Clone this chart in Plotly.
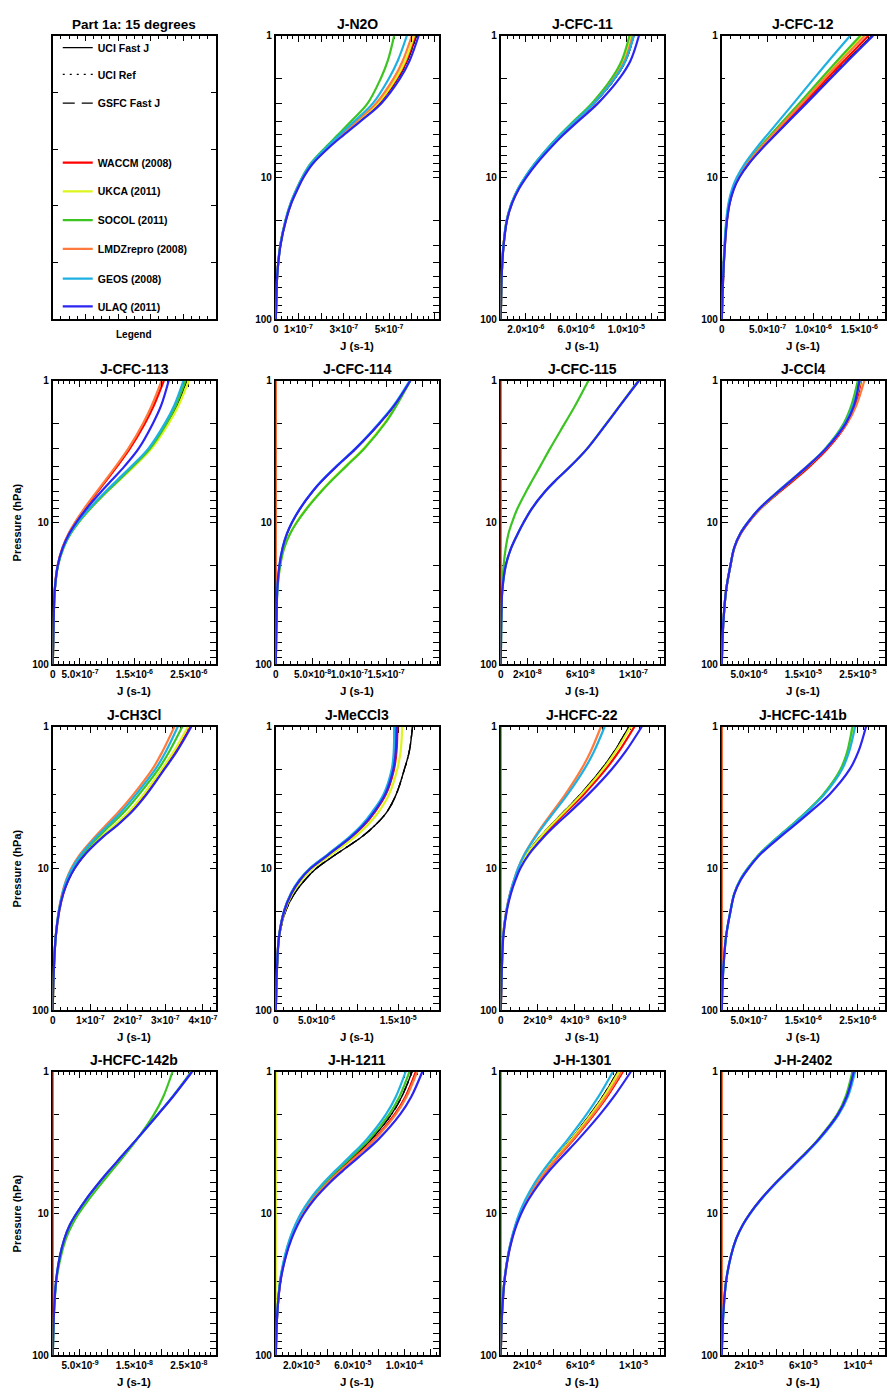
import numpy as np
import plotly.graph_objects as go

# Pressure levels (hPa) shared by every profile
P_LEVELS = [100, 70, 50, 30, 20, 15, 12, 10, 8, 6, 5, 4, 3, 2, 1.5, 1]

MODELS = ["WACCM (2008)", "UKCA (2011)", "SOCOL (2011)",
          "LMDZrepro (2008)", "GEOS (2008)", "ULAQ (2011)"]
REFERENCES = ["UCI Fast J", "UCI Ref", "GSFC Fast J"]
REF_KEY = "UCI/GSFC"
ZERO = [0] * 16

# ---- photolysis profiles; each value is J in the panel's unit ----
# J-N2O  (1e-7 s-1)
J_N2O = {
    REF_KEY:            [0, .03, .06, .2, .44, .69, .95, 1.2, 1.6, 2.38, 2.94, 3.66, 4.55, 5.38, 5.8, 6.2],
    "WACCM (2008)":     [0, .03, .06, .2, .44, .69, .95, 1.2, 1.59, 2.37, 2.93, 3.64, 4.52, 5.34, 5.76, 6.15],
    "UKCA (2011)":      [0, .03, .06, .2, .44, .69, .95, 1.2, 1.59, 2.37, 2.92, 3.62, 4.5, 5.3, 5.71, 6.1],
    "SOCOL (2011)":     [0, .03, .06, .2, .43, .67, .92, 1.16, 1.53, 2.25, 2.74, 3.33, 4.05, 4.63, 4.94, 5.22],
    "LMDZrepro (2008)": [0, .03, .06, .2, .44, .68, .94, 1.19, 1.57, 2.34, 2.88, 3.57, 4.42, 5.2, 5.6, 6.0],
    "GEOS (2008)":      [0, .03, .06, .2, .43, .67, .93, 1.17, 1.55, 2.3, 2.82, 3.47, 4.28, 4.99, 5.38, 5.78],
    "ULAQ (2011)":      [0, .03, .06, .21, .45, .7, .97, 1.22, 1.63, 2.42, 3.0, 3.74, 4.65, 5.48, 5.9, 6.3],
}
# J-CFC-11  (1e-6 s-1)
J_CFC11 = {
    REF_KEY:            [0, .03, .07, .22, .48, .9, 1.4, 1.95, 2.75, 3.95, 4.8, 5.95, 7.45, 9.1, 9.95, 10.6],
    "WACCM (2008)":     [0, .03, .07, .22, .48, .9, 1.4, 1.95, 2.74, 3.93, 4.77, 5.9, 7.37, 8.98, 9.8, 10.45],
    "UKCA (2011)":      [0, .03, .07, .22, .48, .9, 1.4, 1.94, 2.73, 3.92, 4.75, 5.87, 7.33, 8.93, 9.76, 10.4],
    "SOCOL (2011)":     [0, .03, .07, .22, .48, .9, 1.39, 1.93, 2.71, 3.89, 4.71, 5.81, 7.25, 8.83, 9.63, 10.25],
    "LMDZrepro (2008)": [0, .03, .07, .22, .49, .91, 1.42, 1.97, 2.77, 3.97, 4.81, 5.94, 7.42, 9.03, 9.86, 10.5],
    "GEOS (2008)":      [0, .03, .07, .22, .47, .88, 1.37, 1.91, 2.7, 3.9, 4.75, 5.9, 7.4, 9.07, 9.93, 10.6],
    "ULAQ (2011)":      [0, .03, .07, .23, .5, .93, 1.45, 2.02, 2.85, 4.1, 4.98, 6.17, 7.73, 9.45, 10.33, 11.0],
}
# J-CFC-12  (1e-7 s-1)
J_CFC12 = {
    REF_KEY:            [0, .08, .16, .35, .58, .88, 1.32, 1.91, 2.93, 4.62, 5.81, 7.28, 9.16, 11.79, 13.68, 16.4],
    "WACCM (2008)":     [0, .08, .16, .34, .56, .86, 1.29, 1.86, 2.86, 4.51, 5.67, 7.1, 8.94, 11.5, 13.35, 16.0],
    "UKCA (2011)":      [0, .08, .15, .33, .54, .83, 1.23, 1.78, 2.73, 4.31, 5.42, 6.79, 8.55, 10.99, 12.75, 15.3],
    "SOCOL (2011)":     [0, .08, .15, .32, .53, .81, 1.22, 1.76, 2.7, 4.25, 5.35, 6.7, 8.44, 10.85, 12.59, 15.1],
    "LMDZrepro (2008)": [0, .08, .15, .33, .55, .84, 1.26, 1.81, 2.79, 4.39, 5.53, 6.92, 8.71, 11.21, 13.0, 15.6],
    "GEOS (2008)":      [0, .07, .14, .3, .49, .75, 1.13, 1.63, 2.5, 3.94, 4.96, 6.21, 7.82, 10.06, 11.67, 14.0],
    "ULAQ (2011)":      [0, .08, .16, .35, .58, .89, 1.33, 1.92, 2.95, 4.65, 5.85, 7.32, 9.22, 11.86, 13.76, 16.5],
}
# J-CFC-113  (1e-7 s-1)
J_CFC113 = {
    REF_KEY:            [0, .08, .16, .37, .96, 1.96, 3.24, 4.68, 6.82, 9.98, 12.15, 14.8, 18.0, 21.0, 22.8, 24.6],
    "WACCM (2008)":     [0, .08, .16, .36, .92, 1.83, 2.94, 4.14, 5.86, 8.32, 9.92, 11.84, 14.18, 16.92, 18.54, 20.4],
    "UKCA (2011)":      [0, .08, .16, .37, .97, 1.98, 3.27, 4.72, 6.9, 10.1, 12.3, 15.0, 18.2, 21.3, 23.1, 25.0],
    "SOCOL (2011)":     [0, .08, .16, .37, .97, 1.98, 3.27, 4.72, 6.88, 10.05, 12.2, 14.8, 17.9, 20.9, 22.6, 24.4],
    "LMDZrepro (2008)": [0, .08, .16, .35, .9, 1.8, 2.88, 4.06, 5.74, 8.15, 9.72, 11.6, 13.9, 16.58, 18.17, 20.0],
    "GEOS (2008)":      [0, .08, .16, .37, .96, 1.95, 3.2, 4.6, 6.7, 9.8, 11.9, 14.5, 17.6, 20.6, 22.3, 24.0],
    "ULAQ (2011)":      [0, .08, .16, .36, .92, 1.85, 3.0, 4.3, 6.2, 9.0, 10.9, 13.2, 15.8, 18.4, 19.9, 21.3],
}
# J-CFC-114  (1e-8 s-1)
J_CFC114 = {
    REF_KEY:            [0, .05, .1, .2, .51, .95, 1.54, 2.22, 3.3, 5.08, 6.43, 8.33, 10.93, 14.1, 16.1, 18.3],
    "WACCM (2008)":     ZERO,
    "UKCA (2011)":      [0, .05, .1, .22, .6, 1.15, 1.92, 2.8, 4.14, 6.17, 7.6, 9.5, 11.95, 14.75, 16.3, 18.2],
    "SOCOL (2011)":     [0, .05, .1, .22, .61, 1.17, 1.95, 2.85, 4.2, 6.25, 7.7, 9.6, 12.05, 14.85, 16.4, 18.3],
    "LMDZrepro (2008)": ZERO,
    "GEOS (2008)":      [0, .05, .1, .2, .5, .94, 1.52, 2.2, 3.27, 5.03, 6.37, 8.26, 10.85, 14.0, 16.0, 18.2],
    "ULAQ (2011)":      [0, .05, .1, .2, .5, .94, 1.52, 2.2, 3.28, 5.05, 6.4, 8.3, 10.9, 14.1, 16.1, 18.3],
}
# J-CFC-115  (1e-8 s-1)
J_CFC115 = {
    REF_KEY:            [0, .02, .04, .12, .38, .8, 1.28, 1.72, 2.33, 3.37, 4.18, 5.27, 6.53, 7.98, 8.98, 10.4],
    "WACCM (2008)":     ZERO,
    "UKCA (2011)":      [0, .02, .04, .12, .38, .8, 1.28, 1.72, 2.33, 3.37, 4.18, 5.26, 6.51, 7.95, 8.95, 10.35],
    "SOCOL (2011)":     [0, .02, .04, .1, .22, .38, .58, .85, 1.25, 1.93, 2.4, 2.98, 3.72, 4.82, 5.6, 6.6],
    "LMDZrepro (2008)": ZERO,
    "GEOS (2008)":      [0, .02, .04, .12, .38, .8, 1.28, 1.72, 2.33, 3.37, 4.18, 5.27, 6.53, 7.98, 8.98, 10.4],
    "ULAQ (2011)":      [0, .02, .04, .12, .38, .8, 1.28, 1.72, 2.33, 3.37, 4.18, 5.27, 6.53, 7.98, 8.98, 10.4],
}
# J-CCl4  (1e-6 s-1)
J_CCL4 = {
    REF_KEY:            [0, .12, .3, .8, 1.6, 2.3, 3.4, 4.8, 6.9, 10.5, 12.9, 15.8, 19.2, 22.8, 24.3, 25.4],
    "WACCM (2008)":     [0, .12, .3, .8, 1.62, 2.35, 3.48, 4.9, 7.1, 10.8, 13.3, 16.2, 19.5, 23.0, 24.5, 25.6],
    "UKCA (2011)":      [0, .12, .3, .8, 1.6, 2.3, 3.4, 4.8, 6.95, 10.55, 12.95, 15.85, 19.2, 22.75, 24.2, 25.5],
    "SOCOL (2011)":     [0, .12, .3, .8, 1.6, 2.3, 3.4, 4.8, 6.95, 10.55, 12.95, 15.8, 19.05, 22.4, 23.8, 25.0],
    "LMDZrepro (2008)": [0, .12, .3, .8, 1.6, 2.3, 3.4, 4.8, 6.9, 10.4, 12.8, 15.7, 19.2, 23.0, 24.7, 26.2],
    "GEOS (2008)":      [0, .12, .3, .8, 1.6, 2.3, 3.38, 4.75, 6.85, 10.4, 12.8, 15.7, 19.1, 22.65, 24.1, 25.4],
    "ULAQ (2011)":      [0, .12, .3, .8, 1.6, 2.3, 3.4, 4.8, 6.9, 10.5, 12.9, 15.8, 19.2, 22.8, 24.3, 25.3],
}
# J-CH3Cl  (1e-7 s-1)
J_CH3CL = {
    REF_KEY:            [0, .01, .03, .08, .17, .28, .42, .58, .85, 1.32, 1.69, 2.09, 2.49, 2.96, 3.29, 3.68],
    "WACCM (2008)":     [0, .01, .03, .08, .17, .28, .41, .57, .84, 1.31, 1.68, 2.07, 2.47, 2.95, 3.28, 3.67],
    "UKCA (2011)":      [0, .01, .03, .08, .17, .27, .4, .56, .82, 1.28, 1.63, 2.02, 2.42, 2.9, 3.22, 3.6],
    "SOCOL (2011)":     [0, .01, .03, .08, .16, .26, .38, .53, .78, 1.21, 1.52, 1.9, 2.3, 2.81, 3.1, 3.45],
    "LMDZrepro (2008)": [0, .01, .03, .08, .16, .25, .36, .49, .72, 1.12, 1.4, 1.75, 2.15, 2.65, 2.92, 3.24],
    "GEOS (2008)":      [0, .01, .03, .08, .16, .26, .37, .51, .75, 1.16, 1.46, 1.82, 2.22, 2.73, 3.01, 3.33],
    "ULAQ (2011)":      [0, .01, .03, .08, .17, .28, .42, .58, .85, 1.33, 1.7, 2.1, 2.5, 2.97, 3.3, 3.69],
}
# J-MeCCl3  (1e-6 s-1)
J_MECCL3 = {
    REF_KEY:            [0, .08, .17, .45, 1.2, 2.3, 3.6, 4.95, 7.3, 10.5, 12.1, 13.6, 14.75, 15.75, 16.35, 16.75],
    "WACCM (2008)":     [0, .07, .15, .41, 1.04, 1.93, 3.03, 4.29, 6.48, 9.27, 10.75, 12.12, 13.48, 14.48, 14.79, 14.9],
    "UKCA (2011)":      [0, .07, .16, .42, 1.09, 2.05, 3.21, 4.5, 6.74, 9.66, 11.18, 12.59, 13.88, 14.88, 15.29, 15.49],
    "SOCOL (2011)":     [0, .07, .15, .4, 1.01, 1.87, 2.94, 4.19, 6.35, 9.08, 10.53, 11.89, 13.28, 14.28, 14.55, 14.6],
    "LMDZrepro (2008)": [0, .07, .15, .4, 1.02, 1.89, 2.96, 4.22, 6.39, 9.14, 10.6, 11.96, 13.34, 14.34, 14.62, 14.7],
    "GEOS (2008)":      [0, .07, .15, .4, 1.0, 1.85, 2.9, 4.15, 6.3, 9.0, 10.45, 11.8, 13.2, 14.2, 14.45, 14.5],
    "ULAQ (2011)":      [0, .07, .15, .41, 1.03, 1.91, 2.99, 4.25, 6.43, 9.2, 10.66, 12.03, 13.4, 14.4, 14.7, 14.8],
}
# J-HCFC-22  (1e-9 s-1)
J_HCFC22 = {
    REF_KEY:            [0, .03, .06, .13, .3, .5, .73, .96, 1.37, 2.11, 2.66, 3.38, 4.29, 5.42, 6.11, 6.9],
    "WACCM (2008)":     [0, .03, .06, .13, .3, .52, .76, 1.0, 1.42, 2.2, 2.77, 3.52, 4.47, 5.65, 6.36, 7.2],
    "UKCA (2011)":      [0, .03, .06, .13, .3, .51, .74, .97, 1.38, 2.14, 2.69, 3.43, 4.35, 5.5, 6.19, 7.0],
    "SOCOL (2011)":     ZERO,
    "LMDZrepro (2008)": [0, .03, .06, .13, .3, .5, .72, .93, 1.26, 1.83, 2.24, 2.78, 3.48, 4.34, 4.84, 5.4],
    "GEOS (2008)":      [0, .03, .06, .13, .3, .5, .72, .93, 1.27, 1.87, 2.3, 2.87, 3.6, 4.5, 5.02, 5.6],
    "ULAQ (2011)":      [0, .03, .06, .14, .32, .55, .8, 1.05, 1.5, 2.32, 2.92, 3.72, 4.72, 5.97, 6.72, 7.6],
}
# J-HCFC-141b  (1e-7 s-1)
J_HCFC141B = {
    REF_KEY:            [0, .12, .3, .8, 1.6, 2.3, 3.4, 4.75, 6.8, 10.3, 12.7, 15.5, 18.7, 21.9, 23.2, 24.2],
    "WACCM (2008)":     ZERO,
    "UKCA (2011)":      [0, .12, .3, .8, 1.6, 2.3, 3.4, 4.75, 6.8, 10.3, 12.7, 15.55, 18.75, 21.95, 23.25, 24.3],
    "SOCOL (2011)":     [0, .12, .3, .8, 1.6, 2.3, 3.4, 4.75, 6.8, 10.3, 12.7, 15.5, 18.65, 21.8, 23.05, 24.0],
    "LMDZrepro (2008)": ZERO,
    "GEOS (2008)":      [0, .12, .3, .8, 1.6, 2.3, 3.4, 4.77, 6.85, 10.35, 12.8, 15.6, 18.85, 22.1, 23.4, 24.5],
    "ULAQ (2011)":      [0, .12, .3, .8, 1.6, 2.35, 3.5, 4.9, 7.0, 10.7, 13.2, 16.2, 19.8, 23.5, 25.1, 26.5],
}
# J-HCFC-142b  (1e-9 s-1)
J_HCFC142B = {
    REF_KEY:            [0, .1, .22, .6, 1.3, 2.15, 3.15, 4.35, 6.06, 8.6, 10.33, 12.54, 15.4, 19.3, 22.0, 25.5],
    "WACCM (2008)":     ZERO,
    "UKCA (2011)":      [0, .1, .22, .6, 1.3, 2.15, 3.15, 4.35, 6.06, 8.6, 10.33, 12.54, 15.4, 19.3, 22.0, 25.4],
    "SOCOL (2011)":     [0, .1, .22, .65, 1.5, 2.44, 3.56, 4.78, 6.57, 9.13, 10.83, 12.92, 15.48, 18.6, 20.3, 22.0],
    "LMDZrepro (2008)": ZERO,
    "GEOS (2008)":      [0, .1, .22, .6, 1.3, 2.15, 3.15, 4.35, 6.06, 8.6, 10.33, 12.54, 15.4, 19.3, 22.0, 25.5],
    "ULAQ (2011)":      [0, .1, .22, .6, 1.3, 2.15, 3.15, 4.35, 6.06, 8.6, 10.33, 12.54, 15.4, 19.33, 22.07, 25.6],
}
# J-H-1211  (1e-6 s-1)
J_H1211 = {
    REF_KEY:            [0, .5, 1.2, 3.45, 7.35, 11.5, 15.9, 20.5, 27.6, 39.6, 48.5, 60.0, 74.2, 89.9, 98.0, 106],
    "WACCM (2008)":     [0, .5, 1.2, 3.5, 7.6, 11.9, 16.4, 21.1, 28.4, 40.8, 49.9, 61.7, 76.4, 92.5, 100.9, 109],
    "UKCA (2011)":      ZERO,
    "SOCOL (2011)":     [0, .5, 1.2, 3.4, 7.2, 11.3, 15.6, 20.1, 27.1, 38.9, 47.5, 58.8, 72.8, 88.2, 96.2, 104],
    "LMDZrepro (2008)": [0, .5, 1.2, 3.6, 7.6, 12.0, 16.5, 21.2, 28.7, 41.1, 50.3, 62.2, 77.0, 93.3, 101.7, 110],
    "GEOS (2008)":      [0, .5, 1.2, 3.3, 7.0, 11.0, 15.2, 19.5, 26.3, 37.7, 46.2, 57.2, 70.7, 85.7, 93.4, 101],
    "ULAQ (2011)":      [0, .5, 1.2, 3.7, 7.9, 12.4, 17.1, 22.0, 29.7, 42.6, 52.1, 64.5, 79.8, 96.7, 105.4, 114],
}
# J-H-1301  (1e-7 s-1)
J_H1301 = {
    REF_KEY:            [0, .4, 1.0, 2.7, 5.35, 8.25, 11.2, 14.3, 19.0, 27.0, 33.0, 41.4, 52.7, 67.3, 76.7, 88],
    "WACCM (2008)":     [0, .4, 1.0, 2.75, 5.45, 8.4, 11.5, 14.6, 19.6, 28.0, 34.4, 43.2, 55.0, 70.3, 80.1, 92],
    "UKCA (2011)":      [0, .4, 1.0, 2.7, 5.4, 8.3, 11.3, 14.4, 19.2, 27.3, 33.4, 41.9, 53.2, 68.1, 77.6, 89],
    "SOCOL (2011)":     ZERO,
    "LMDZrepro (2008)": [0, .4, 1.0, 2.75, 5.45, 8.4, 11.5, 14.6, 19.5, 27.8, 34.1, 42.8, 54.4, 69.6, 79.3, 91],
    "GEOS (2008)":      [0, .4, 1.0, 2.7, 5.3, 8.15, 11.05, 14.0, 18.5, 26.0, 31.8, 39.7, 50.5, 64.6, 73.6, 84.5],
    "ULAQ (2011)":      [0, .4, 1.0, 2.8, 5.6, 8.7, 12.0, 15.4, 20.8, 29.8, 36.6, 46.0, 58.5, 74.8, 85.2, 98],
}
# J-H-2402  (1e-6 s-1)
J_H2402 = {
    REF_KEY:            [0, .5, 1.2, 3.2, 6.7, 10.7, 15.5, 20.7, 28.5, 40.3, 48.6, 58.8, 71.3, 85.7, 92.2, 97.5],
    "WACCM (2008)":     ZERO,
    "UKCA (2011)":      [0, .5, 1.2, 3.2, 6.7, 10.7, 15.5, 20.7, 28.5, 40.3, 48.6, 58.7, 71.0, 85.2, 91.5, 96.5],
    "SOCOL (2011)":     [0, .5, 1.2, 3.2, 6.7, 10.7, 15.5, 20.7, 28.5, 40.3, 48.5, 58.6, 70.8, 84.8, 91.0, 96],
    "LMDZrepro (2008)": ZERO,
    "GEOS (2008)":      [0, .5, 1.2, 3.2, 6.7, 10.7, 15.6, 20.9, 28.8, 40.7, 49.1, 59.3, 71.8, 86.0, 92.7, 98],
    "ULAQ (2011)":      [0, .5, 1.2, 3.2, 6.7, 10.7, 15.5, 20.7, 28.5, 40.3, 48.6, 58.8, 71.2, 85.4, 91.9, 97],
}


# ---- x-axis tick labels per panel (IDL-style mantissa x 10^exponent) ----
def sci(m, e):
    return f"{m}\u00d710<sup>{e}</sup>"


N2O_TICKS, N2O_TEXT = [0, 1e-7, 3e-7, 5e-7], ["0", sci("1", -7), sci("3", -7), sci("5", -7)]
CFC11_TICKS, CFC11_TEXT = [2e-6, 6e-6, 1e-5], [sci("2.0", -6), sci("6.0", -6), sci("1.0", -5)]
CFC12_TICKS, CFC12_TEXT = [0, 5e-7, 1e-6, 1.5e-6], ["0", sci("5.0", -7), sci("1.0", -6), sci("1.5", -6)]
CFC113_TICKS, CFC113_TEXT = [0, 5e-7, 1.5e-6, 2.5e-6], ["0", sci("5.0", -7), sci("1.5", -6), sci("2.5", -6)]
CFC114_TICKS, CFC114_TEXT = [0, 5e-8, 1e-7, 1.5e-7], ["0", sci("5.0", -8), sci("1.0", -7), sci("1.5", -7)]
CFC115_TICKS, CFC115_TEXT = [0, 2e-8, 6e-8, 1e-7], ["0", sci("2", -8), sci("6", -8), sci("1", -7)]
CCL4_TICKS, CCL4_TEXT = [5e-6, 1.5e-5, 2.5e-5], [sci("5.0", -6), sci("1.5", -5), sci("2.5", -5)]
CH3CL_TICKS, CH3CL_TEXT = [0, 1e-7, 2e-7, 3e-7, 4e-7], ["0", sci("1", -7), sci("2", -7), sci("3", -7), sci("4", -7)]
MECCL3_TICKS, MECCL3_TEXT = [0, 5e-6, 1.5e-5], ["0", sci("5.0", -6), sci("1.5", -5)]
HCFC22_TICKS, HCFC22_TEXT = [0, 2e-9, 4e-9, 6e-9], ["0", sci("2", -9), sci("4", -9), sci("6", -9)]
HCFC141B_TICKS, HCFC141B_TEXT = [5e-7, 1.5e-6, 2.5e-6], [sci("5.0", -7), sci("1.5", -6), sci("2.5", -6)]
HCFC142B_TICKS, HCFC142B_TEXT = [5e-9, 1.5e-8, 2.5e-8], [sci("5.0", -9), sci("1.5", -8), sci("2.5", -8)]
H1211_TICKS, H1211_TEXT = [2e-5, 6e-5, 1e-4], [sci("2.0", -5), sci("6.0", -5), sci("1.0", -4)]
H1301_TICKS, H1301_TEXT = [2e-6, 6e-6, 1e-5], [sci("2", -6), sci("6", -6), sci("1", -5)]
H2402_TICKS, H2402_TEXT = [2e-5, 6e-5, 1e-4], [sci("2", -5), sci("6", -5), sci("1", -4)]

# (title, profiles, unit, x max, labelled ticks, labels, major step, minor step)
PANELS = [
    ("J-N2O", J_N2O, 1e-7, 7.2e-7, N2O_TICKS, N2O_TEXT, 1e-7, 2.5e-8),
    ("J-CFC-11", J_CFC11, 1e-6, 1.3e-5, CFC11_TICKS, CFC11_TEXT, 2e-6, 5e-7),
    ("J-CFC-12", J_CFC12, 1e-7, 1.78e-6, CFC12_TICKS, CFC12_TEXT, 5e-7, 1e-7),
    ("J-CFC-113", J_CFC113, 1e-7, 3e-6, CFC113_TICKS, CFC113_TEXT, 5e-7, 1e-7),
    ("J-CFC-114", J_CFC114, 1e-8, 2.22e-7, CFC114_TICKS, CFC114_TEXT, 5e-8, 1e-8),
    ("J-CFC-115", J_CFC115, 1e-8, 1.23e-7, CFC115_TICKS, CFC115_TEXT, 2e-8, 5e-9),
    ("J-CCl4", J_CCL4, 1e-6, 3e-5, CCL4_TICKS, CCL4_TEXT, 5e-6, 1e-6),
    ("J-CH3Cl", J_CH3CL, 1e-7, 4.35e-7, CH3CL_TICKS, CH3CL_TEXT, 1e-7, 2e-8),
    ("J-MeCCl3", J_MECCL3, 1e-6, 2e-5, MECCL3_TICKS, MECCL3_TEXT, 5e-6, 1e-6),
    ("J-HCFC-22", J_HCFC22, 1e-9, 8.8e-9, HCFC22_TICKS, HCFC22_TEXT, 2e-9, 5e-10),
    ("J-HCFC-141b", J_HCFC141B, 1e-7, 3e-6, HCFC141B_TICKS, HCFC141B_TEXT, 5e-7, 1e-7),
    ("J-HCFC-142b", J_HCFC142B, 1e-9, 3e-8, HCFC142B_TICKS, HCFC142B_TEXT, 5e-9, 1e-9),
    ("J-H-1211", J_H1211, 1e-6, 1.27e-4, H1211_TICKS, H1211_TEXT, 2e-5, 5e-6),
    ("J-H-1301", J_H1301, 1e-7, 1.23e-5, H1301_TICKS, H1301_TEXT, 2e-6, 5e-7),
    ("J-H-2402", J_H2402, 1e-6, 1.2e-4, H2402_TICKS, H2402_TEXT, 2e-5, 5e-6),
]

# ---- styling ----
W, H = 891, 1394
FONT = "Liberation Sans"
MODEL_COLORS = ["#ff0000", "#dcf51c", "#3cc423", "#ff7b3d", "#1fb0e2", "#2b24f2"]
REF_DASH = ["solid", "2px,5px", "12px,7px"]
COL_LEFT = [50, 274, 500, 722]
COL_W = 164
ROW_TOP = [30, 378, 727, 1075]
ROW_H = 286
LEGEND_ROWS = [42, 69, 98, 158, 187, 216, 245, 275, 303]


def px_x(v):
    return v / W


def px_y(v):
    return 1 - v / H


def axis_names(n):
    return (("xaxis" if n == 1 else f"xaxis{n}"), ("yaxis" if n == 1 else f"yaxis{n}"),
            ("x" if n == 1 else f"x{n}"), ("y" if n == 1 else f"y{n}"))


fig = go.Figure()
annotations = []
axis_base = dict(showline=True, linecolor="black", linewidth=1.7, mirror="allticks",
                 ticks="inside", tickcolor="black", tickwidth=1.2, showgrid=False,
                 zeroline=False, layer="below traces",
                 tickfont=dict(family=FONT, size=10, color="black", weight="bold"))
y_minor_vals = [m * d for d in (1, 10) for m in range(2, 10)]

legend_slot = 0
for k in range(16):
    r, c = divmod(k, 4)
    n = k + 1
    xa, ya, xref, yref = axis_names(n)
    x0, x1 = COL_LEFT[c], COL_LEFT[c] + COL_W
    y0, y1 = ROW_TOP[r], ROW_TOP[r] + ROW_H
    xdom = [px_x(x0), px_x(x1)]
    ydom = [px_y(y1), px_y(y0)]
    xcen = px_x((x0 + x1) / 2)

    if k == 0:
        # legend box: framed axes without labels
        fig.update_layout({
            xa: dict(axis_base, domain=xdom, anchor=yref, range=[0, 1], dtick=0.2,
                     ticklen=5, showticklabels=False,
                     minor=dict(ticks="inside", dtick=0.05, ticklen=3, tickcolor="black")),
            ya: dict(axis_base, domain=ydom, anchor=xref, range=[0, 1], dtick=0.2,
                     ticklen=5, showticklabels=False),
        })
        fig.add_trace(go.Scatter(x=[], y=[], xaxis=xref, yaxis=yref, showlegend=False,
                                 hoverinfo="skip"))
        annotations.append(dict(text="Part 1a: 15 degrees", x=xcen, y=px_y(y0 - 2),
                                xref="paper", yref="paper", xanchor="center", yanchor="bottom",
                                showarrow=False,
                                font=dict(family=FONT, size=13.5, color="black", weight="bold")))
        annotations.append(dict(text="Legend", x=xcen, y=px_y(y1 + 15),
                                xref="paper", yref="paper", xanchor="center", yanchor="middle",
                                showarrow=False,
                                font=dict(family=FONT, size=10, color="black", weight="bold")))
        continue

    title, data, unit, xmax, lab_vals, lab_text, major, minor = PANELS[k - 1]

    steps = np.round(np.arange(0, xmax * 1.0001, major), 15)
    plain_major = [v for v in steps
                   if not any(np.isclose(v, lv, rtol=1e-6, atol=major * 1e-6) for lv in lab_vals)]
    all_major = list(lab_vals) + plain_major
    minor_vals = [v for v in np.round(np.arange(0, xmax * 1.0001, minor), 15)
                  if not any(np.isclose(v, mv, atol=minor * 1e-3) for mv in all_major)]

    fig.update_layout({
        xa: dict(axis_base, domain=xdom, anchor=yref, range=[0, xmax],
                 tickmode="array", tickvals=lab_vals, ticktext=lab_text,
                 ticklen=6, tickangle=0,
                 minor=dict(ticks="inside", tickmode="array", tickvals=minor_vals,
                            ticklen=3, tickcolor="black", tickwidth=1)),
        ya: dict(axis_base, domain=ydom, anchor=xref, type="log", range=[2, 0],
                 tickmode="array", tickvals=[1, 10, 100], ticktext=["1", "10", "100"],
                 ticklen=6,
                 minor=dict(ticks="inside", tickmode="array", tickvals=y_minor_vals,
                            ticklen=3, tickcolor="black", tickwidth=1)),
    })

    # unlabelled major ticks on an overlaid copy of the x axis
    if plain_major:
        oxa, _, oxref, _ = axis_names(n + 16)
        fig.update_layout({
            oxa: dict(overlaying=xref, anchor=yref, range=[0, xmax], showline=False,
                      mirror="allticks", ticks="inside", tickcolor="black", tickwidth=1.2,
                      ticklen=6, tickmode="array", tickvals=plain_major,
                      showticklabels=False, showgrid=False, zeroline=False),
        })
        fig.add_trace(go.Scatter(x=[], y=[], xaxis=oxref, yaxis=yref, showlegend=False,
                                 hoverinfo="skip"))

    first = (k == 1)
    ref_x = np.array(data[REF_KEY]) * unit
    for name, dash in zip(REFERENCES, REF_DASH):
        tr = dict(x=ref_x, y=P_LEVELS, xaxis=xref, yaxis=yref, mode="lines", name=name,
                  line=dict(color="black", width=1.4, dash=dash, shape="spline", smoothing=1.0),
                  showlegend=first, hoverinfo="skip")
        if first:
            tr["legend"] = "legend" if legend_slot == 0 else f"legend{legend_slot + 1}"
            legend_slot += 1
        fig.add_trace(go.Scatter(**tr))
    for name, color in zip(MODELS, MODEL_COLORS):
        tr = dict(x=np.array(data[name]) * unit, y=P_LEVELS, xaxis=xref, yaxis=yref,
                  mode="lines", name=name,
                  line=dict(color=color, width=2.2, shape="spline", smoothing=1.0),
                  showlegend=first, hoverinfo="skip")
        if first:
            tr["legend"] = f"legend{legend_slot + 1}"
            legend_slot += 1
        fig.add_trace(go.Scatter(**tr))

    annotations.append(dict(text=title, x=xcen, y=px_y(y0 - 2), xref="paper", yref="paper",
                            xanchor="center", yanchor="bottom", showarrow=False,
                            font=dict(family=FONT, size=14, color="black", weight="bold")))
    annotations.append(dict(text="J (s-1)", x=xcen, y=px_y(y1 + 27), xref="paper", yref="paper",
                            xanchor="center", yanchor="middle", showarrow=False,
                            font=dict(family=FONT, size=11.5, color="black", weight="bold")))
    if c == 0:
        annotations.append(dict(text="Pressure (hPa)", x=px_x(14), y=px_y((y0 + y1) / 2),
                                xref="paper", yref="paper", xanchor="center", yanchor="middle",
                                textangle=-90, showarrow=False,
                                font=dict(family=FONT, size=11, color="black", weight="bold")))

# one single-entry legend per row of the legend box
legends = {}
for i, yc in enumerate(LEGEND_ROWS):
    key = "legend" if i == 0 else f"legend{i + 1}"
    legends[key] = dict(x=px_x(COL_LEFT[0] + 5), y=px_y(yc), xanchor="left", yanchor="middle",
                        bgcolor="rgba(0,0,0,0)", borderwidth=0, itemwidth=30,
                        font=dict(family=FONT, size=10.5, color="black", weight="bold"))

fig.update_layout(
    width=W, height=H, margin=dict(l=0, r=0, t=0, b=0),
    paper_bgcolor="white", plot_bgcolor="white",
    showlegend=True, hovermode=False,
    annotations=annotations,
    **legends,
)

fig.write_html("out.html")
